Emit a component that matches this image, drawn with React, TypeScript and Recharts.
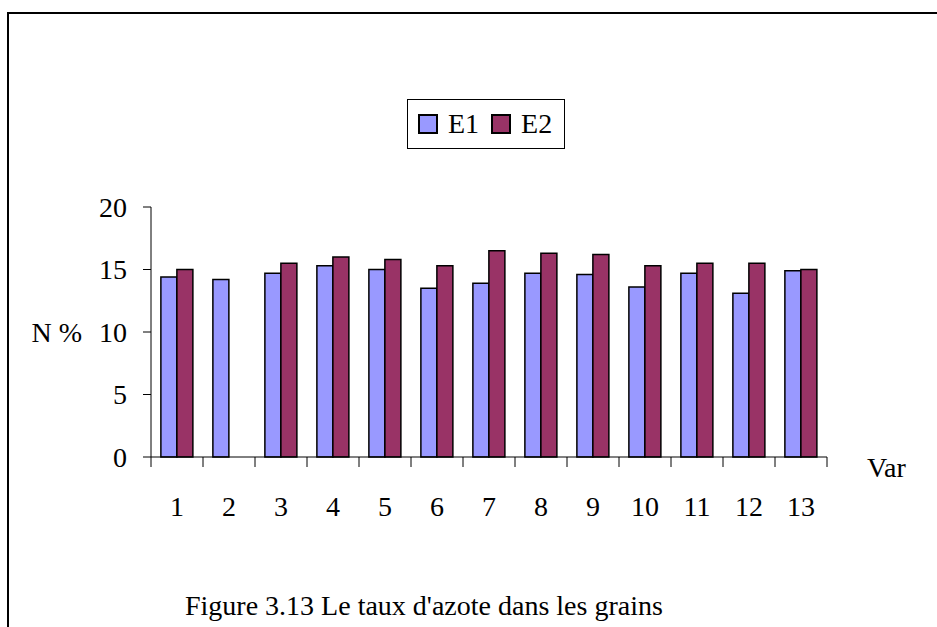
import { BarChart, Bar, XAxis, YAxis, Label } from 'recharts';

const categories = ['1', '2', '3', '4', '5', '6', '7', '8', '9', '10', '11', '12', '13'];
const e1Values = [14.4, 14.2, 14.7, 15.3, 15.0, 13.5, 13.9, 14.7, 14.6, 13.6, 14.7, 13.1, 14.9];
const e2Values = [15.0, null, 15.5, 16.0, 15.8, 15.3, 16.5, 16.3, 16.2, 15.3, 15.5, 15.5, 15.0];
const yTicks = [0, 5, 10, 15, 20];
const seriesNames = ['E1', 'E2'];
const seriesColors = ['#9999ff', '#993366'];

const data = categories.map((name, i) => ({ name, E1: e1Values[i], E2: e2Values[i] }));

const font = "'Liberation Serif', 'Times New Roman', serif";

function CategoryTick(props: any) {
  const { x, y, payload, index } = props;
  const half = payload && typeof payload.offset === 'number' ? payload.offset : 26;
  return (
    <g>
      <line x1={x - half} x2={x - half} y1={y} y2={y + 10} stroke="#000" strokeWidth={1} />
      {index === categories.length - 1 && (
        <line x1={x + half} x2={x + half} y1={y} y2={y + 10} stroke="#000" strokeWidth={1} />
      )}
      <text x={x} y={y + 59} textAnchor="middle" fill="#000" fontSize={28} fontFamily={font}>
        {payload.value}
      </text>
    </g>
  );
}

export default function App() {
  return (
    <div
      style={{
        position: 'absolute',
        left: 0,
        top: 0,
        width: 937,
        height: 627,
        overflow: 'hidden',
        background: '#fff',
        fontFamily: font,
      }}
    >
      <div
        style={{
          position: 'absolute',
          left: 7,
          top: 12,
          width: 940,
          height: 630,
          borderTop: '2px solid #000',
          borderLeft: '2px solid #000',
        }}
      />
      <div style={{ position: 'absolute', left: 0, top: 0 }}>
        <BarChart
          width={937}
          height={627}
          data={data}
          margin={{ top: 207, right: 110, bottom: 150, left: 91 }}
          barCategoryGap="19%"
          barGap={0}
        >
          <XAxis
            dataKey="name"
            height={20}
            interval={0}
            tickLine={false}
            tickSize={0}
            tickMargin={0}
            axisLine={{ stroke: '#000', strokeWidth: 1 }}
            tick={<CategoryTick />}
          >
            <Label value="Var" position="right" offset={40} fill="#000" fontSize={28} fontFamily={font} />
          </XAxis>
          <YAxis
            width={60}
            domain={[0, 20]}
            ticks={yTicks}
            interval={0}
            tickSize={8}
            tickMargin={16}
            tickLine={{ stroke: '#000', strokeWidth: 1 }}
            axisLine={{ stroke: '#000', strokeWidth: 1 }}
            tick={{ fill: '#000', fontSize: 28, fontFamily: font }}
          >
            <Label value="N %" position="left" offset={9} fill="#000" fontSize={28} fontFamily={font} />
          </YAxis>
          {seriesNames.map((s, i) => (
            <Bar
              key={s}
              dataKey={s}
              fill={seriesColors[i]}
              stroke="#000"
              strokeWidth={1.5}
              isAnimationActive={false}
            />
          ))}
        </BarChart>
      </div>
      <div
        style={{
          position: 'absolute',
          left: 407,
          top: 99,
          width: 158,
          height: 50,
          border: '1px solid #000',
          display: 'flex',
          alignItems: 'center',
          paddingLeft: 10,
          boxSizing: 'border-box',
          fontSize: 28,
          lineHeight: 1,
          color: '#000',
        }}
      >
        {seriesNames.map((s, i) => (
          <div key={s} style={{ display: 'flex', alignItems: 'center', marginRight: 12 }}>
            <span
              style={{
                display: 'inline-block',
                width: 16,
                height: 16,
                background: seriesColors[i],
                border: '2px solid #000',
                marginRight: 10,
              }}
            />
            <span>{s}</span>
          </div>
        ))}
      </div>
      <div
        style={{
          position: 'absolute',
          left: 185,
          top: 592,
          fontSize: 28,
          lineHeight: 1,
          color: '#000',
          whiteSpace: 'nowrap',
        }}
      >
        Figure 3.13 Le taux d'azote dans les grains
      </div>
    </div>
  );
}
